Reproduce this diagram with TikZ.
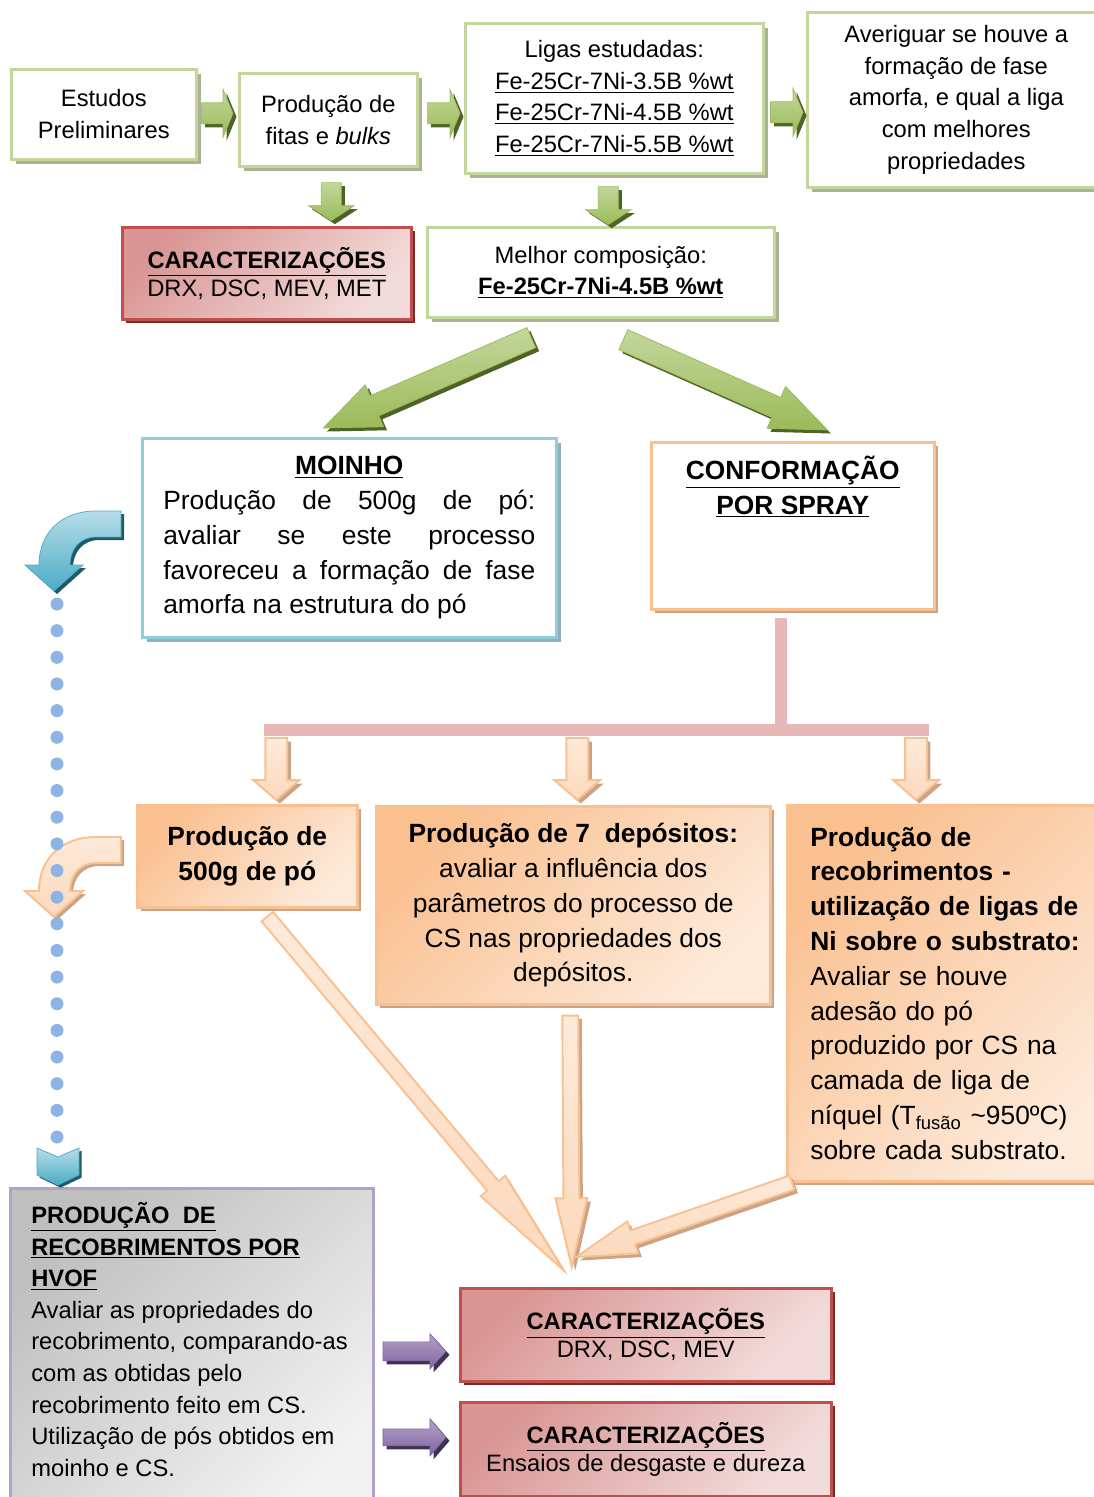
\documentclass[tikz,border=0pt]{standalone}
\usepackage{fontspec}
\setmainfont{Liberation Sans}
\usepackage{tikz}
\usetikzlibrary{calc,shadows}
\hyphenpenalty=10000

\definecolor{GreenLine}{HTML}{C3D69B}
\definecolor{GreenShade}{HTML}{A9B394}
\definecolor{GreenArrow}{HTML}{9BBB59}
\definecolor{GreenDark}{HTML}{4F6228}
\definecolor{RedLine}{HTML}{C0504D}
\definecolor{RedDark}{HTML}{D99694}
\definecolor{RedLight}{HTML}{F2DCDB}
\definecolor{RedShade}{HTML}{7B2C2A}
\definecolor{BlueLine}{HTML}{92CDDC}
\definecolor{BlueShade}{HTML}{8FB0BE}
\definecolor{BlueArrow}{HTML}{4BACC6}
\definecolor{BlueLight}{HTML}{B7DDE8}
\definecolor{BlueDark}{HTML}{215968}
\definecolor{DotBlue}{HTML}{8EB4E3}
\definecolor{OrangeLine}{HTML}{FAC090}
\definecolor{OrangeLight}{HTML}{FDEADA}
\definecolor{OrangeShade}{HTML}{C9A488}
\definecolor{PinkBus}{HTML}{E6B9B8}
\definecolor{GreyLine}{HTML}{B3A2C7}
\definecolor{GreyDark}{HTML}{BFBFBF}
\definecolor{GreyLight}{HTML}{F2F2F2}
\definecolor{PurpleArrow}{HTML}{8064A2}
\definecolor{PurpleDark}{HTML}{3F3151}

\newcommand{\smallfont}{\fontsize{13.5}{18}\selectfont}
\newcommand{\carafont}{\fontsize{13.5}{16}\selectfont}
\newcommand{\bigfont}{\fontsize{15}{19.8}\selectfont}

% block arrow from #3 to #4: shaft half width #5, head half width #6, head length #7 (px)
\newcommand{\fatarrow}[7][]{%
  \path let \p1=#3, \p2=#4 in \pgfextra{%
    \pgfmathsetmacro\faang{atan2(\y2-\y1,\x2-\x1)}%
    \pgfmathsetmacro\falen{veclen(\x2-\x1,\y2-\y1)}%
    \xdef\faang{\faang}\xdef\falen{\falen}%
    \xdef\fax{\x1}\xdef\fay{\y1}};
  \pgfmathsetmacro\fas{#5*0.5669}%
  \pgfmathsetmacro\faH{#6*0.5669}%
  \pgfmathsetmacro\fab{\falen-#7*0.5669}%
  \fill[#2, shift={({\fax+2pt},{\fay-2pt})}, rotate=\faang]
    (0pt,-\fas pt) -- (\fab pt,-\fas pt) -- (\fab pt,-\faH pt) -- (\falen pt,0pt)
    -- (\fab pt,\faH pt) -- (\fab pt,\fas pt) -- (0pt,\fas pt) -- cycle;
  \path[#1, shift={(\fax,\fay)}, rotate=\faang]
    (0pt,-\fas pt) -- (\fab pt,-\fas pt) -- (\fab pt,-\faH pt) -- (\falen pt,0pt)
    -- (\fab pt,\faH pt) -- (\fab pt,\fas pt) -- (0pt,\fas pt) -- cycle;
}

% bent arrow on the left side, shifted down by #3 (px)
\newcommand{\bentarrow}[3]{%
  \fill[#2, shift={(3,{#3+3})}]
    (121,511) -- (96,511) .. controls (62,511) and (39,532) .. (39,565) -- (25,565)
    -- (54,591) -- (83,565) -- (70,565) .. controls (70,549) and (80,537) .. (96,537)
    -- (121,537) -- cycle;
  \path[#1, shift={(0,#3)}]
    (121,511) -- (96,511) .. controls (62,511) and (39,532) .. (39,565) -- (25,565)
    -- (54,591) -- (83,565) -- (70,565) .. controls (70,549) and (80,537) .. (96,537)
    -- (121,537) -- cycle;
}

\tikzset{
  greenbox/.style={draw=GreenLine, line width=1.5pt, fill=white, anchor=north west,
    align=center, inner sep=0pt, font=\smallfont,
    drop shadow={shadow xshift=2.8pt, shadow yshift=-2.8pt, fill=GreenShade, opacity=1}},
  redbox/.style={draw=RedLine, line width=1.5pt, top color=RedDark, bottom color=RedLight,
    shading angle=45, anchor=north west, align=center, inner sep=0pt, font=\carafont,
    drop shadow={shadow xshift=2.3pt, shadow yshift=-2.3pt, fill=RedShade, opacity=1}},
  bluebox/.style={draw=BlueLine, line width=1.5pt, fill=white, anchor=north west,
    inner sep=0pt, font=\bigfont,
    drop shadow={shadow xshift=2.5pt, shadow yshift=-2.5pt, fill=BlueShade, opacity=1}},
  confbox/.style={draw=OrangeLine, line width=1.5pt, fill=white, anchor=north west,
    inner sep=0pt, font=\bigfont,
    drop shadow={shadow xshift=2.3pt, shadow yshift=-2.3pt, fill=OrangeShade, opacity=1}},
  orangebox/.style={draw=OrangeLine, line width=1.5pt, top color=OrangeLine,
    bottom color=OrangeLight, shading angle=45, anchor=north west, align=center,
    inner sep=0pt, font=\bigfont,
    drop shadow={shadow xshift=2.3pt, shadow yshift=-2.3pt, fill=OrangeShade, opacity=1}},
  greybox/.style={draw=GreyLine, line width=1.5pt, top color=GreyDark, bottom color=GreyLight,
    shading angle=45, anchor=north west, inner sep=0pt, font=\smallfont},
  greenarrow/.style={draw=GreenArrow, line width=.4pt, top color=GreenLine, bottom color=GreenArrow},
  orangearrow/.style={draw=OrangeLine, line width=1.1pt, top color=OrangeLight, bottom color=OrangeLine!60},
  purplearrow/.style={draw=PurpleArrow, line width=.4pt, top color=GreyLine, bottom color=PurpleArrow},
  bluearrow/.style={draw=BlueArrow, line width=.4pt, top color=BlueLight, bottom color=BlueArrow},
  busline/.style={PinkBus, line width=6.8pt},
}

\begin{document}
\begin{tikzpicture}[x=0.02cm, y=-0.02cm]
  \useasboundingbox (0,0) rectangle (1094,1497);

  % top row
  \node[greenbox, minimum width=3.7cm, minimum height=1.8cm] (est) at (10,68)
    {Estudos\\Preliminares};
  \node[greenbox, minimum width=3.56cm, minimum height=1.86cm] (fitas) at (238,72)
    {Produção de\\fitas e \textit{bulks}};
  \node[greenbox, minimum width=5.96cm, minimum height=3cm] (ligas) at (464,22)
    {Ligas estudadas:\\\underline{Fe-25Cr-7Ni-3.5B \%wt}\\\underline{Fe-25Cr-7Ni-4.5B \%wt}\\\underline{Fe-25Cr-7Ni-5.5B \%wt}};
  \node[greenbox, minimum width=5.96cm, minimum height=3.5cm] (aver) at (806,11)
    {Averiguar se houve a\\formação de fase\\amorfa, e qual a liga\\com melhores\\propriedades};

  \node[redbox, minimum width=5.78cm, minimum height=1.84cm] (carac1) at (121,226)
    {\textbf{\underline{CARACTERIZAÇÕES}}\\DRX, DSC, MEV, MET};
  \node[greenbox, minimum width=6.94cm, minimum height=1.8cm] (melhor) at (426,226)
    {Melhor composição:\\\textbf{\underline{Fe-25Cr-7Ni-4.5B \%wt}}};

  % second level
  \node[bluebox, minimum width=8.28cm, minimum height=3.98cm, text width=7.44cm, align=justify] (moinho) at (141,437)
    {{\centering\textbf{\underline{MOINHO}}\par}Produção de 500g de pó: avaliar se este processo favoreceu a formação de fase amorfa na estrutura do pó};
  \node[confbox, minimum width=5.66cm, minimum height=3.34cm] (conf) at (650,441)
    {\parbox[c][2.8cm][t]{5.4cm}{\centering\textbf{\underline{CONFORMAÇÃO}}\\\textbf{\underline{POR SPRAY}}}};

  % cold spray boxes
  \node[orangebox, minimum width=4.4cm, minimum height=2.04cm] (p500) at (136,804)
    {\textbf{Produção de}\\\textbf{500g de pó}};
  \node[orangebox, minimum width=7.88cm, minimum height=3.96cm] (dep7) at (375,805)
    {\textbf{Produção de 7\ \ depósitos:}\\avaliar a influência dos\\parâmetros do processo de\\CS nas propriedades dos\\depósitos.};
  \node[orangebox, minimum width=6.48cm, minimum height=7.52cm, text width=5.56cm, align=left] (recob) at (786,804)
    {\textbf{Produção de}\\\textbf{recobrimentos -}\\\textbf{utilização de ligas de}\\\textbf{Ni sobre o substrato:}\\Avaliar se houve\\adesão do pó\\produzido por CS na\\camada de liga de\\níquel (T\textsubscript{fusão} \textasciitilde950ºC)\\sobre cada substrato.};

  % bottom
  \node[greybox, minimum width=7.26cm, minimum height=6.66cm] (hvof) at (9,1187)
    {\parbox[c][6.1cm][t]{6.42cm}{\raggedright\textbf{\underline{PRODUÇÃO\ \ DE}}\\\textbf{\underline{RECOBRIMENTOS POR}}\\\textbf{\underline{HVOF}}\\Avaliar as propriedades do\\recobrimento, comparando-as\\com as obtidas pelo\\recobrimento feito em CS.\\Utilização de pós obtidos em\\moinho e CS.}};
  \node[redbox, minimum width=7.42cm, minimum height=1.86cm] (carac2) at (459,1287)
    {\textbf{\underline{CARACTERIZAÇÕES}}\\DRX, DSC, MEV};
  \node[redbox, minimum width=7.42cm, minimum height=1.88cm] (carac3) at (459,1401)
    {\textbf{\underline{CARACTERIZAÇÕES}}\\Ensaios de desgaste e dureza};

  % green arrows
  \fatarrow[greenarrow]{GreenDark}{($(est.east)+(4,-1)$)}{($(fitas.west)+(-5,-6.5)$)}{10.5}{24}{10}
  \fatarrow[greenarrow]{GreenDark}{($(fitas.east)+(9,-6.5)$)}{($(ligas.west)+(-4,15)$)}{10.5}{24}{10}
  \fatarrow[greenarrow]{GreenDark}{($(ligas.east)+(6,14)$)}{($(aver.west)+(-3,12.5)$)}{10.5}{24}{10}
  \fatarrow[greenarrow]{GreenDark}{($(fitas.south)+(3,15)$)}{($(fitas.south)+(3,53)$)}{10}{23}{15}
  \fatarrow[greenarrow]{GreenDark}{($(ligas.south)+(-6,12)$)}{($(ligas.south)+(-6,50)$)}{10}{23}{15}
  \fatarrow[greenarrow]{GreenDark}{($(melhor.south)+(-69.5,19)$)}{($(moinho.north)+(-26,-9)$)}{11}{23}{56}
  \fatarrow[greenarrow]{GreenDark}{($(melhor.south)+(22.5,21)$)}{($(conf.north)+(34.5,-11)$)}{11}{23}{56}

  % spray branches
  \coordinate (busL) at (264,730);
  \coordinate (busR) at (929,730);
  \coordinate (busT) at (781,730);
  \draw[busline] ($(busT |- conf.south)+(0,7)$) -- (busT);
  \draw[busline] (busL) -- (busR);
  \fatarrow[orangearrow]{OrangeShade}{($(p500.north)+(29,-66)$)}{($(p500.north)+(29,-4)$)}{11}{23}{20}
  \fatarrow[orangearrow]{OrangeShade}{($(dep7.north)+(4,-67)$)}{($(dep7.north)+(4,-5)$)}{11}{23}{20}
  \fatarrow[orangearrow]{OrangeShade}{($(recob.north west)+(130,-66)$)}{($(recob.north west)+(130,-4)$)}{11}{23}{20}

  % towards the characterisation
  \fatarrow[orangearrow]{OrangeShade}{($(p500.south)+(20,8)$)}{($(carac2.north)+(-82.5,-17)$)}{7.5}{16}{110}
  \fatarrow[orangearrow]{OrangeShade}{($(dep7.south)+(-3,10)$)}{($(carac2.north)+(-74,-20)$)}{8}{16}{69}
  \fatarrow[orangearrow]{OrangeShade}{($(recob.south west)+(6,0)$)}{($(carac2.north)+(-69.5,-30)$)}{7.5}{17}{60}

  % moinho to hvof
  \bentarrow{bluearrow}{BlueDark}{0}
  \bentarrow{orangearrow}{OrangeShade}{326}
  \foreach \k in {0,...,20}
    \fill[DotBlue] (57,{604+26.65*\k}) circle (0.13cm);
  \path[bluearrow, drop shadow={shadow xshift=1.5pt, shadow yshift=-1.5pt, fill=BlueDark, opacity=1}]
    (37,1148) -- (58,1157) -- (79,1148) -- (79,1175) -- (58,1185) -- (37,1175) -- cycle;

  \fatarrow[purplearrow]{PurpleDark}{($(carac2.west)+(-76,16.5)$)}{($(carac2.west)+(-13,16.5)$)}{9.5}{17.5}{16}
  \fatarrow[purplearrow]{PurpleDark}{($(carac3.west)+(-76,-12)$)}{($(carac3.west)+(-13,-12)$)}{8.5}{18.5}{16}
\end{tikzpicture}
\end{document}
